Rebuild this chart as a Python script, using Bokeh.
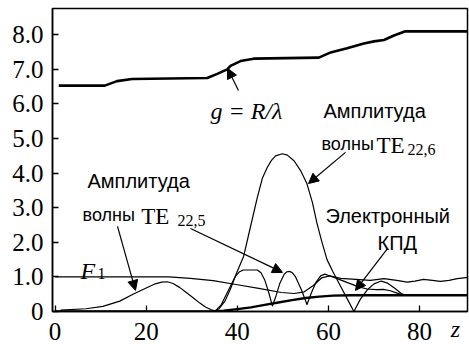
from bokeh.plotting import figure
from bokeh.models import Range1d, FixedTicker, Label, Arrow, NormalHead, LinearAxis
from bokeh.embed import file_html
from bokeh.resources import INLINE

# ---------------- data ----------------
x_ticks = [0, 20, 40, 60, 80]
y_ticks = [0, 1, 2, 3, 4, 5, 6, 7, 8]
y_tick_labels = ["0", "1.0", "2.0", "3.0", "4.0", "5.0", "6.0", "7.0", "8.0"]
x_axis_name = "z\u2003"

# g = R/lambda
g_z = [0.8, 10.9, 13.6, 16.9, 33.4, 35.6, 37.8, 38.5, 40.7, 43.6, 57.9, 60.5,
       64.1, 67.8, 70.0, 72.2, 74.4, 76.9, 91.0]
g_v = [6.53, 6.53, 6.66, 6.72, 6.75, 6.87, 7.0, 7.1, 7.24, 7.31, 7.34, 7.49,
       7.61, 7.75, 7.81, 7.85, 7.98, 8.10, 8.10]

# F1
f1_z = [0, 25, 29.7, 34.7, 39.7, 44.7, 49.7, 52.5, 54.7, 56.7, 58.5, 60.3,
        62.7, 66.0, 69.2, 72.2, 75.0, 77.3, 79.0, 80.9, 82.8, 84.6, 86.5, 88.3, 91.0]
f1_v = [1.0, 1.0, 0.96, 0.89, 0.78, 0.67, 0.55, 0.52, 0.57, 0.75, 0.97, 1.03,
        0.96, 0.93, 0.90, 0.95, 0.90, 0.85, 0.88, 0.93, 0.90, 0.87, 0.90, 0.95, 0.99]

# amplitude TE22,5
te5_z = [1.2, 6.8, 10.5, 14.2, 17.1, 20.0, 22.0, 23.4, 24.6, 25.9, 27.4, 28.8,
         30.3, 31.7, 33.0, 34.3, 35.2, 36.5, 38.0, 39.5, 40.4, 41.3, 44.4, 45.2,
         46.0, 46.9, 47.7, 48.5, 49.3, 50.3, 50.9, 51.5, 52.1, 52.8, 54.1, 55.3,
         56.3, 57.3, 58.3, 59.2, 60.5, 62.5, 64.5, 66.5, 68.5, 70.5, 72.1, 73.6,
         75.1, 76.5]
te5_v = [0.04, 0.08, 0.15, 0.30, 0.50, 0.68, 0.80, 0.85, 0.86, 0.81, 0.69, 0.55,
         0.40, 0.25, 0.13, 0.05, 0.02, 0.20, 0.60, 1.00, 1.14, 1.20, 1.20, 1.12,
         0.92, 0.55, 0.16, 0.45, 0.80, 1.08, 1.15, 1.16, 1.12, 1.00, 0.62, 0.20,
         0.55, 0.85, 1.03, 1.08, 1.02, 0.92, 0.82, 0.72, 0.65, 0.63, 0.64, 0.60,
         0.53, 0.47]

# amplitude TE22,6
te6_z = [34.8, 36.0, 37.3, 38.5, 39.8, 41.4, 42.9, 44.4, 45.5, 46.6, 47.5, 48.4,
         49.9, 51.0, 52.5, 54.0, 55.3, 56.5, 57.5, 58.6, 59.7, 61.0, 62.7, 64.2,
         65.6, 67.0, 68.5, 70.0, 71.6, 73.0, 74.5, 76.0, 77.0]
te6_v = [0.0, 0.08, 0.30, 0.65, 1.10, 1.60, 2.45, 3.30, 3.85, 4.17, 4.37, 4.50,
         4.56, 4.52, 4.35, 4.05, 3.69, 3.15, 2.55, 2.00, 1.50, 1.15, 0.72, 0.35,
         0.0, 0.35, 0.62, 0.80, 0.88, 0.82, 0.68, 0.52, 0.47]

# electronic efficiency
eff_z = [0, 34, 37, 40, 43, 46, 49, 52, 55, 58, 61, 65, 91]
eff_v = [0, 0, 0.02, 0.07, 0.12, 0.19, 0.26, 0.33, 0.39, 0.43, 0.46, 0.47, 0.47]

# annotation texts
lbl_text = ["g = R/λ", "Амплитуда", "волны", "TE", "22,6",
            "Амплитуда", "волны", "TE", "22,5",
            "Электронный", "КПД", "F", "1"]
lbl_x = [34.12, 58.92, 58.48, 70.56, 77.37,
         7.11, 6.02, 18.9, 26.9,
         59.36, 70.78, 5.58, 9.31]
lbl_y = [5.81, 5.81, 4.83, 4.80, 4.68,
         3.76, 2.78, 2.75, 2.63,
         2.75, 1.99, 1.185, 1.10]
lbl_kind = ["it", "sans", "sans2", "serif", "sub",
            "sans", "sans2", "serif", "sub",
            "sans", "sans", "it", "sub"]

# arrows (tail -> head)
arr_x0 = [40.26, 63.75, 13.70, 29.73, 72.97]
arr_y0 = [6.39, 4.60, 2.46, 2.40, 1.82]
arr_x1 = [37.85, 55.63, 17.65, 49.93, 65.94]
arr_y1 = [7.03, 3.70, 0.61, 1.13, 0.61]

# ---------------- figure ----------------
p = figure(width=469, height=344, output_backend="svg", toolbar_location=None,
           x_range=Range1d(-0.57, 90.54), y_range=Range1d(0, 8.76),
           min_border_left=52, min_border_right=2, min_border_top=8,
           min_border_bottom=33)
p.grid.visible = False
p.outline_line_color = "black"
p.outline_line_width = 1.5
p.outline_line_alpha = 1.0
p.background_fill_color = "white"
p.border_fill_color = "white"

SERIF = "Liberation Serif"
SANS = "Liberation Sans"

for axes in (p.xaxis, p.yaxis):
    axes.axis_line_width = 1.5
    axes.axis_line_color = "black"
    axes.major_tick_in = 6
    axes.major_tick_out = 0
    axes.major_tick_line_width = 1.3
    axes.major_tick_line_color = "black"
    axes.minor_tick_line_color = None
    axes.major_label_text_font = SERIF
    axes.major_label_text_font_size = "25px"
    axes.major_label_text_color = "black"

p.xaxis.ticker = FixedTicker(ticks=x_ticks)
p.yaxis.ticker = FixedTicker(ticks=y_ticks)
p.yaxis.major_label_overrides = {t: s for t, s in zip(y_ticks, y_tick_labels)}
p.xaxis.major_label_standoff = 11
p.yaxis.major_label_standoff = 9

# axis name "z" at the right end of the x axis, on the tick-label row
xa = p.xaxis[0]
xa.axis_label = x_axis_name
xa.axis_label_text_font = SERIF
xa.axis_label_text_font_style = "italic"
xa.axis_label_text_font_size = "24px"
xa.axis_label_text_color = "black"
try:
    xa.axis_label_standoff = -27
except Exception:
    xa.axis_label_standoff = 0
if "axis_label_align" in LinearAxis.properties():
    xa.axis_label_align = "end"

p.line(g_z, g_v, line_color="black", line_width=2.6, line_join="round")
p.line(eff_z, eff_v, line_color="black", line_width=2.4, line_join="round")
p.line(f1_z, f1_v, line_color="black", line_width=1.2, line_join="round")
p.line(te5_z, te5_v, line_color="black", line_width=1.2, line_join="round")
p.line(te6_z, te6_v, line_color="black", line_width=1.2, line_join="round")

for x0, y0, x1, y1 in zip(arr_x0, arr_y0, arr_x1, arr_y1):
    p.add_layout(Arrow(end=NormalHead(size=10, fill_color="black", line_color="black", line_width=1),
                       x_start=x0, y_start=y0, x_end=x1, y_end=y1,
                       line_color="black", line_width=1.2))

for t, x, y, k in zip(lbl_text, lbl_x, lbl_y, lbl_kind):
    if k == "it":
        font, size, style = SERIF, "24px", "italic"
    elif k == "serif":
        font, size, style = SERIF, "23px", "normal"
    elif k == "sub":
        font, size, style = SERIF, "16px", "normal"
    elif k == "sans2":
        font, size, style = SANS, "18px", "normal"
    else:
        font, size, style = SANS, "20px", "normal"
    p.add_layout(Label(x=x, y=y, text=t, text_font=font, text_font_size=size,
                       text_font_style=style, text_color="black",
                       text_baseline="alphabetic", text_align="left"))

open("out.html", "w").write(file_html(p, INLINE))
